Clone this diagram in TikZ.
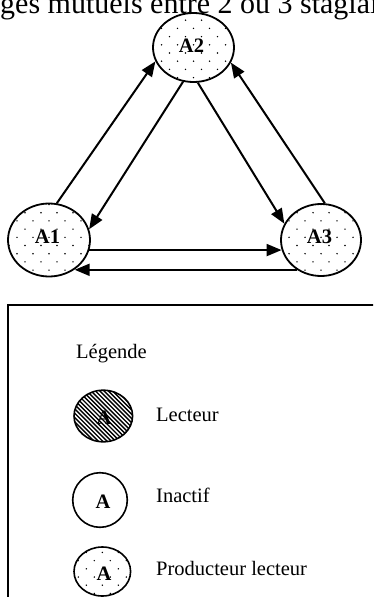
\documentclass[tikz,border=0pt]{standalone}
\usepackage{fontspec}
\setmainfont{Liberation Serif}
\usetikzlibrary{arrows.meta,shapes.geometric,calc}
\newcommand\stagdots[4]{%
  \begin{scope}
    \clip (#1,#2) ellipse [x radius=#3pt, y radius=#4pt];
    \foreach \j in {0,...,10} {
      \foreach \i in {-4,...,4} {
        \fill ({#1-16+16*\i+8*mod(\j,2)}, {#2-27.3-8.2+8.2*\j}) circle[radius=0.8pt];
      }
    }
  \end{scope}}
\begin{document}
\begin{tikzpicture}[x=1pt,y=-1pt,
  stag/.style={draw,ellipse,line width=1.8pt,inner sep=0pt},
  leg/.style={draw,ellipse,line width=1.6pt,inner sep=0pt},
  lab/.style={font=\fontsize{20.5}{24}\selectfont\bfseries,inner sep=0pt,anchor=base},
  txt/.style={font=\fontsize{20.5}{24}\selectfont,inner sep=0pt,anchor=base west},
  arr/.style={line width=2pt,-{Triangle[length=15pt,width=12pt]}}]
\useasboundingbox (0,0) rectangle (373,597);
\clip (0,0) rectangle (373,597);

% title (cut by the frame)
\node[anchor=base west,inner sep=0pt,font=\fontsize{30}{36}\selectfont] (title) at (0,13.5) {ges mutuels entre 2 ou 3 stagiaires};

% main ellipses
\stagdots{49}{240}{41}{36.5}
\stagdots{193.5}{47.5}{40.5}{34.5}
\stagdots{321}{240}{40}{36}
\node[stag,minimum width=82pt,minimum height=73pt] (A1) at (49,240) {};
\node[stag,minimum width=81pt,minimum height=69pt] (A2) at (193.5,47.5) {};
\node[stag,minimum width=80pt,minimum height=72pt] (A3) at (321,240) {};
\node[lab] (A1t) at (47.5,243) {A1};
\node[lab] (A2t) at (191.5,52) {A2};
\node[lab] (A3t) at (319.5,243) {A3};

% connectors
\draw[arr] (A1.78) -- (A2.200);
\draw[arr] (A2.253) -- (A1.15);
\draw[arr] (A2.277) -- (A3.156);
\draw[arr] (A3.84) -- (A2.338);
\draw[arr] (A1.346) -- (A1.346 -| A3.194);
\draw[arr] (A3.231) -- (A3.231 -| A1.311);

% legend frame
\draw[line width=1.8pt,line join=miter] (390,305) -- (8,305) -- (8,610);
\node[txt] (leg) at (76,358.3) {Légende};

% Lecteur
\node[lab] (L1a) at (104,424) {A};
\begin{scope}
  \clip (103.3,416) ellipse [x radius=29.3pt, y radius=25.8pt];
  \foreach \k in {-20,...,20} {
    \draw[line width=1.4pt] ({103.3-40+4.3*\k},376) -- ({103.3+40+4.3*\k},456);
  }
\end{scope}
\node[leg,minimum width=58.6pt,minimum height=51.6pt] (L1) at (103.3,416) {};
\node[txt] (L1t) at (156,421) {Lecteur};

% Inactif
\node[leg,minimum width=54.6pt,minimum height=54.6pt] (L2) at (100,500) {};
\node[lab] (L2a) at (103,508) {A};
\node[txt] (L2t) at (156,502.7) {Inactif};

% Producteur lecteur
\stagdots{102.3}{571.5}{28.3}{24.5}
\node[leg,minimum width=56.6pt,minimum height=49pt] (L3) at (102.3,571.5) {};
\node[lab] (L3a) at (104,580) {A};
\node[txt] (L3t) at (156,575) {Producteur lecteur};
\end{tikzpicture}
\end{document}
